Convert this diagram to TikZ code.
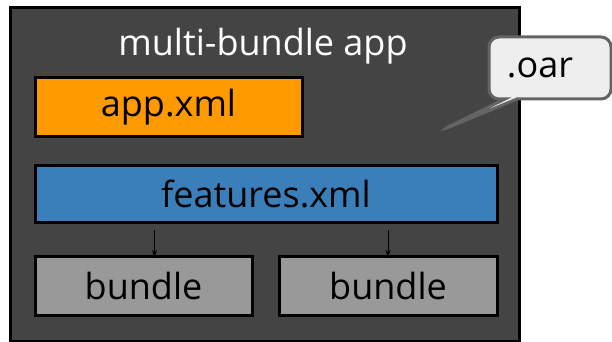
\documentclass[tikz,border=0pt]{standalone}
\usepackage{fontspec}
\setmainfont{Open Sans}
\usetikzlibrary{arrows.meta, shapes.callouts, positioning, calc}
\definecolor{AppOrange}{RGB}{255,153,0}
\definecolor{FeatBlau}{RGB}{59,127,186}
\definecolor{AppGrau}{RGB}{68,68,68}
\definecolor{BundleGrau}{RGB}{153,153,153}
\definecolor{OarGrau}{RGB}{238,238,238}
\definecolor{OarRand}{RGB}{100,100,100}

\begin{document}
\begin{tikzpicture}[x=1pt, y=-1pt,
    box/.style={draw=black, line width=3pt, inner sep=0pt, anchor=north west, font=\fontsize{36}{36}\selectfont},
    link/.style={-{Stealth[length=9pt, width=5pt]}, line width=1pt}]
    \useasboundingbox (0,0) rectangle (612,342);
    \node[box, fill=AppGrau, minimum width=508.5pt, minimum height=333pt] (app) at (9,6.5) {};
    \node[white, font=\fontsize{36}{36}\selectfont, anchor=base] (title) at (263,56) {multi-bundle app};
    \node[box, fill=AppOrange,  minimum width=267pt, minimum height=58pt] (appxml) at (33.5,76.5) {app.xml};
    \node[box, fill=FeatBlau,   minimum width=462pt, minimum height=57pt] (feat)   at (33.5,163.5) {features.xml};
    \node[box, fill=BundleGrau, minimum width=217pt, minimum height=59pt] (b1)     at (33.5,254.5) {bundle};
    \node[box, fill=BundleGrau, minimum width=218pt, minimum height=59pt] (b2)     at (277.5,254.5) {bundle};
    \draw[link] ([xshift=11pt, yshift=-6pt]b1.north |- feat.south) -- ([xshift=11pt, yshift=-4pt]b1.north);
    \draw[link] ([yshift=-6pt]b2.north |- feat.south) -- ([yshift=-4pt]b2.north);
    % speech bubble
    \coordinate (tip) at (442,130);
    \node[rectangle callout, rounded corners=10pt, draw=OarRand, fill=OarGrau, line width=3pt,
          minimum width=122pt, minimum height=62pt, font=\fontsize{36}{36}\selectfont,
          callout absolute pointer={(tip)}, callout pointer width=12pt] (oar) at (550,68) {\kern-20pt.oar};
\end{tikzpicture}
\end{document}
